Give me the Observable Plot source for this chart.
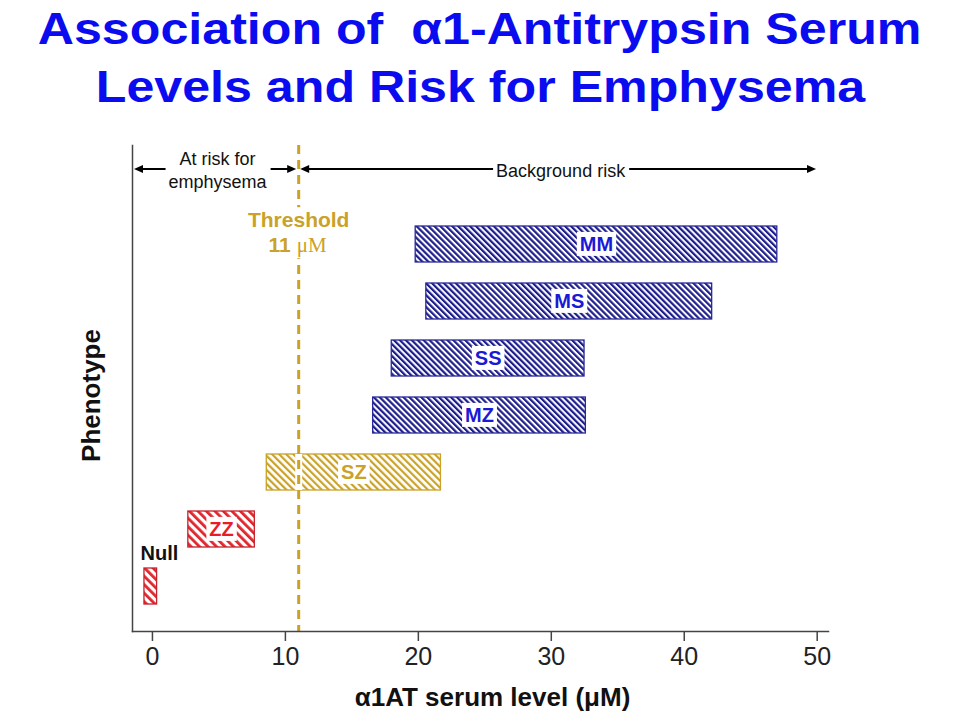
<!DOCTYPE html>
<html>
<head>
<meta charset="utf-8">
<script src="https://cdn.jsdelivr.net/npm/d3@7"></script>
<script src="https://cdn.jsdelivr.net/npm/@observablehq/plot@0.6"></script>
<style>
  html, body { margin: 0; padding: 0; background: #fff; }
  body { width: 960px; height: 720px; overflow: hidden; font-family: 'Liberation Sans', Arial, sans-serif; }
  #title { height: 120px; text-align: center; color: #0b0bf0; font-weight: bold; font-size: 44px; line-height: 58px; white-space: nowrap; }
  #title .tl { display: inline-block; transform: scaleX(1.14); transform-origin: center; }
  #chart svg { display: block; }
</style>
</head>
<body>
<div id="title"></div>
<div id="chart"></div>
<script>
// ---------- data ----------
const titleLines = ["Association of\u00a0 α1-Antitrypsin Serum", "Levels and Risk for Emphysema"];
const phenotypes = ["MM", "MS", "SS", "MZ", "SZ", "ZZ", "Null"];
const lowLevels  = [19.8, 20.6, 18.0, 16.6, 8.6, 2.7, -0.6];
const highLevels = [47.0, 42.1, 32.5, 32.6, 21.7, 7.7, 0.35];
const riskGroups = ["normal", "normal", "normal", "normal", "intermediate", "deficient", "deficient"];
const xTicks = [0, 10, 20, 30, 40, 50];
const xDomain = [-1.5, 50.85];
const threshold = 11;
const thresholdLabel = "Threshold";
const thresholdNumber = "11";
const thresholdUnit = "μM";
const zoneLabels = ["At risk for\nemphysema", "Background risk"];
const zoneFrom = [-1.5, 11];
const zoneTo = [11, 50.1];
const xLabel = "α1AT serum level (μM)";
const yLabel = "Phenotype";

// ---------- styles ----------
const gold = "#c9a227";
const groupStyle = {
  normal:       {hatch: "hatch-blue", stripe: "#1d1d8c", edge: "#28289a", text: "#1a1ad6", spacing: 4.2, thickness: 2.2},
  intermediate: {hatch: "hatch-gold", stripe: gold,      edge: gold,      text: gold,      spacing: 5,   thickness: 2.2},
  deficient:    {hatch: "hatch-red",  stripe: "#e0262c", edge: "#c8202a", text: "#ea1c24", spacing: 6,   thickness: 2.8}
};

document.getElementById("title").innerHTML =
  titleLines.map(t => `<span class="tl">${t}</span>`).join("<br>");

const rows = phenotypes.map((p, i) => ({phenotype: p, low: lowLevels[i], high: highLevels[i], group: riskGroups[i]}));

const defsMark = () => {
  const defs = d3.create("svg:defs");
  for (const s of Object.values(groupStyle)) {
    const p = defs.append("pattern")
      .attr("id", s.hatch)
      .attr("patternUnits", "userSpaceOnUse")
      .attr("width", s.spacing).attr("height", s.spacing)
      .attr("patternTransform", "rotate(-45)");
    p.append("rect").attr("width", s.spacing).attr("height", s.spacing).attr("fill", "white");
    p.append("rect").attr("width", s.thickness).attr("height", s.spacing).attr("fill", s.stripe);
  }
  return defs.node();
};

const arrowsMark = (index, scales, values, dimensions) => {
  const x = scales.x;
  const y = dimensions.marginTop + 24;
  const L = 9, H = 4;
  const g = d3.create("svg:g");
  zoneFrom.forEach((f, i) => {
    const a = x(f) + 2, b = x(zoneTo[i]) - 2;
    g.append("line")
      .attr("x1", a + L - 1).attr("x2", b - L + 1).attr("y1", y).attr("y2", y)
      .attr("stroke", "#000").attr("stroke-width", 2);
    g.append("path")
      .attr("d", `M${a},${y}L${a + L},${y - H}L${a + L},${y + H}ZM${b},${y}L${b - L},${y - H}L${b - L},${y + H}Z`)
      .attr("fill", "#000");
  });
  return g.node();
};

const barMarks = [];
const labelMarks = [];
for (const [group, s] of Object.entries(groupStyle)) {
  const sub = rows.filter(d => d.group === group);
  barMarks.push(Plot.barX(sub, {x1: "low", x2: "high", y: "phenotype", fill: `url(#${s.hatch})`, stroke: s.edge, strokeWidth: 1.3}));
  labelMarks.push(Plot.text(sub.filter(d => d.phenotype !== "Null"), {
    x: d => (d.low + d.high) / 2, y: "phenotype", text: "phenotype",
    fill: s.text, fontSize: 20, fontWeight: "bold"
  }));
}

const chart = Plot.plot({
  width: 960,
  height: 600,
  marginTop: 25,
  marginBottom: 89,
  marginLeft: 132,
  marginRight: 132,
  style: {fontFamily: "'Liberation Sans', Arial, sans-serif", background: "white", overflow: "visible"},
  x: {domain: xDomain},
  y: {domain: phenotypes, range: [104, 487], paddingInner: 0.368, paddingOuter: 0, axis: null},
  marks: [
    defsMark,
    ...barMarks,
    Plot.ruleX([threshold], {y1: () => "SZ", y2: () => "SZ", stroke: "white", strokeWidth: 7}),
    Plot.ruleX([threshold], {stroke: gold, strokeWidth: 3, strokeDasharray: "9,6"}),
    Plot.frame({anchor: "left", stroke: "#444", strokeWidth: 1.5}),
    Plot.frame({anchor: "bottom", stroke: "#444", strokeWidth: 1.5}),
    Plot.axisX({ticks: xTicks, tickSize: 10, tickPadding: 6, fontSize: 25, label: null, stroke: "#444", strokeWidth: 1.5, fill: "#222",
                fontFamily: "'Liberation Sans Narrow', 'Liberation Sans', Arial, sans-serif"}),
    arrowsMark,
    Plot.text(zoneLabels, {x: (d, i) => (zoneFrom[i] + zoneTo[i]) / 2, text: d => d, frameAnchor: "top", lineAnchor: "middle",
                           dy: 24, dx: 2, fontSize: 18, lineHeight: 1.28, fill: "#111"}),
    Plot.text([threshold], {x: d => d, text: () => thresholdLabel, frameAnchor: "top", lineAnchor: "middle", dy: 75,
                            fontSize: 21, fontWeight: "bold", fill: gold}),
    Plot.text([threshold], {x: d => d, text: () => thresholdNumber, frameAnchor: "top", lineAnchor: "middle", dy: 100, dx: -8,
                            textAnchor: "end", fontSize: 21, fontWeight: "bold", fill: gold}),
    Plot.text([threshold], {x: d => d, text: () => thresholdUnit, frameAnchor: "top", lineAnchor: "middle", dy: 100, dx: -2,
                            textAnchor: "start", fontSize: 21, fill: gold, fontFamily: "'Liberation Serif', 'Times New Roman', serif"}),
    ...labelMarks,
    Plot.text(rows.filter(d => d.phenotype === "Null"), {x: "low", y: "phenotype", text: "phenotype", textAnchor: "start",
                            dx: -4, dy: -33, fontSize: 20, fontWeight: "bold", fill: "#111"}),
    Plot.text([yLabel], {text: d => d, frameAnchor: "left", textAnchor: "middle", lineAnchor: "middle", rotate: -90,
                         dx: -41, dy: 7, fontSize: 26, fontWeight: "bold", fill: "#111"}),
    Plot.text([xLabel], {text: d => d, frameAnchor: "bottom", textAnchor: "middle", lineAnchor: "middle",
                         dy: 66, dx: 12, fontSize: 26, fontWeight: "bold", fill: "#111"})
  ]
});

document.getElementById("chart").append(chart);

// white boxes behind in-chart labels
const boxed = new Set([
  ...phenotypes.filter(p => p !== "Null"),
  ...zoneLabels.map(s => s.replace(/\n/g, "")),
  thresholdLabel, thresholdNumber, thresholdUnit
]);
chart.querySelectorAll("text").forEach(t => {
  if (!boxed.has(t.textContent)) return;
  const b = t.getBBox();
  const r = document.createElementNS("http://www.w3.org/2000/svg", "rect");
  r.setAttribute("x", b.x - 3);
  r.setAttribute("y", b.y - 1);
  r.setAttribute("width", b.width + 6);
  r.setAttribute("height", b.height + 2);
  r.setAttribute("fill", "white");
  if (t.getAttribute("transform")) r.setAttribute("transform", t.getAttribute("transform"));
  t.parentNode.insertBefore(r, t);
});
</script>
</body>
</html>
